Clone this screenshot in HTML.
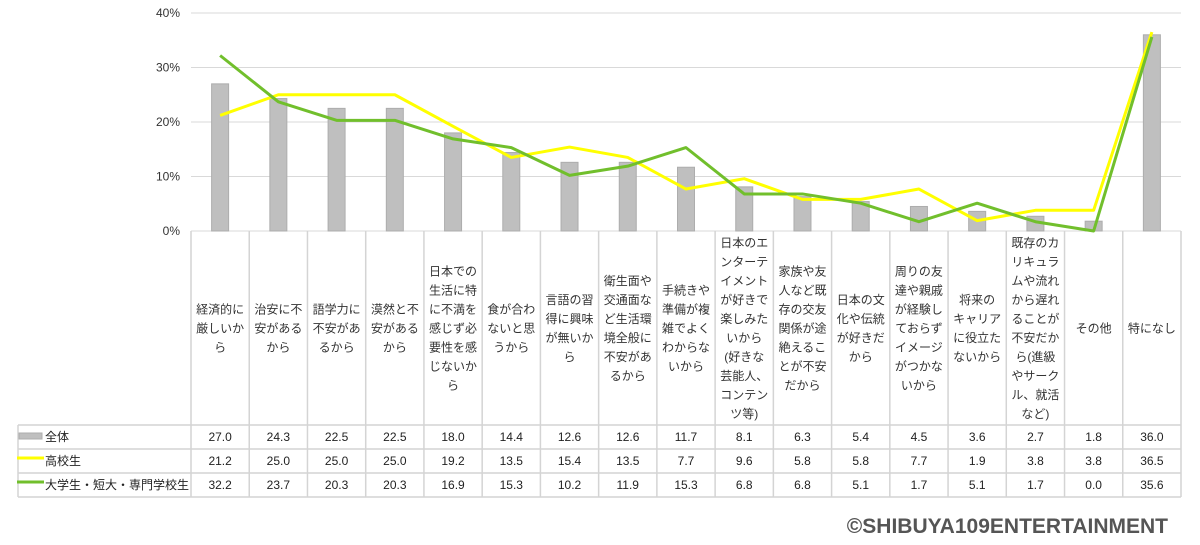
<!DOCTYPE html>
<html><head><meta charset="utf-8"><style>
html,body{margin:0;padding:0;background:#fff;}
svg{display:block;font-family:"Liberation Sans","Noto Sans CJK JP",sans-serif;}
</style></head><body>
<svg id="chart" width="1200" height="545" viewBox="0 0 1200 545">
<g id="grid"></g>
<g id="ytick"></g>
<g id="bars"></g>
<g id="lines"></g>
<g id="table"></g>
<text x="1168" y="533" text-anchor="end" font-size="21" font-weight="600" fill="#555">©SHIBUYA109ENTERTAINMENT</text>
</svg>
<script>
const categories=[["経済的に","厳しいか","ら"],["治安に不","安がある","から"],["語学力に","不安があ","るから"],["漠然と不","安がある","から"],["日本での","生活に特","に不満を","感じず必","要性を感","じないか","ら"],["食が合わ","ないと思","うから"],["言語の習","得に興味","が無いか","ら"],["衛生面や","交通面な","ど生活環","境全般に","不安があ","るから"],["手続きや","準備が複","雑でよく","わからな","いから"],["日本のエ","ンターテ","イメント","が好きで","楽しみた","いから","(好きな","芸能人、","コンテン","ツ等)"],["家族や友","人など既","存の交友","関係が途","絶えるこ","とが不安","だから"],["日本の文","化や伝統","が好きだ","から"],["周りの友","達や親戚","が経験し","ておらず","イメージ","がつかな","いから"],["将来の","キャリア","に役立た","ないから"],["既存のカ","リキュラ","ムや流れ","から遅れ","ることが","不安だか","ら(進級","やサーク","ル、就活","など)"],["その他"],["特になし"]];
const seriesNames=["全体","高校生","大学生・短大・専門学校生"];
const allValues=[27.0,24.3,22.5,22.5,18.0,14.4,12.6,12.6,11.7,8.1,6.3,5.4,4.5,3.6,2.7,1.8,36.0];
const highValues=[21.2,25.0,25.0,25.0,19.2,13.5,15.4,13.5,7.7,9.6,5.8,5.8,7.7,1.9,3.8,3.8,36.5];
const univValues=[32.2,23.7,20.3,20.3,16.9,15.3,10.2,11.9,15.3,6.8,6.8,5.1,1.7,5.1,1.7,0.0,35.6];
const yTicks=[0,10,20,30,40];

const NS="http://www.w3.org/2000/svg";
const L=191,R=1181,TOP=13,BOT=231,N=categories.length,CW=(R-L)/N;
const y=v=>BOT-(v/40)*(BOT-TOP);
const xc=i=>L+CW*(i+0.5);
function mk(tag,attrs,parent,text){const e=document.createElementNS(NS,tag);for(const k in attrs)e.setAttribute(k,attrs[k]);if(text!=null)e.textContent=text;parent.appendChild(e);return e;}
const g=id=>document.getElementById(id);

yTicks.forEach(t=>{
  const ln=mk('line',{x1:L,x2:R,y1:y(t),y2:y(t),stroke:'#d9d9d9','stroke-width':1},g('grid'));
  
  
  const tx=mk('text',{x:180,y:y(t)+4,'text-anchor':'end','font-size':12,fill:'#333'},g('ytick'),t+'%');
  
  
});

allValues.forEach((v,i)=>{
  const r=mk('rect',{x:xc(i)-8.5,y:y(v),width:17,height:BOT-y(v),fill:'#bfbfbf',stroke:'#adadad','stroke-width':1},g('bars'));
  
  
});

function line(vals,color,name){
  const p=mk('polyline',{points:vals.map((v,i)=>xc(i)+','+y(v)).join(' '),fill:'none',stroke:color,'stroke-width':3,'stroke-linejoin':'round'},g('lines'));
  
  
}
line(highValues,'#ffff00','line-high-school');
line(univValues,'#71bf2c','line-university');

const T=g('table');
const rowsY=[231,425,449,473,497];
const c='#d4d4d4';
for(let i=0;i<=N;i++){const x=L+CW*i;mk('line',{x1:x,x2:x,y1:231,y2:497,stroke:c,'stroke-width':1.5},T);}
mk('line',{x1:18,x2:18,y1:425,y2:497,stroke:c,'stroke-width':1.5},T);
rowsY.slice(1).forEach(yy=>mk('line',{x1:18,x2:R,y1:yy,y2:yy,stroke:c,'stroke-width':1.5},T));
categories.forEach((lines,i)=>{
  const lh=19,h=lines.length*lh,start=328-h/2+14;
  const t=mk('text',{'font-size':12,fill:'#333','text-anchor':'middle'},T);
  
  
  lines.forEach((s,k)=>mk('tspan',{x:xc(i),y:start+k*lh},t,s));
});
const series=[allValues,highValues,univValues];
series.forEach((vals,r)=>{
  const yy=rowsY[r+1]+16;
  vals.forEach((v,i)=>{
    const t=mk('text',{x:xc(i),y:yy,'text-anchor':'middle','font-size':12,fill:'#222'},T,v.toFixed(1));
    
    
  });
  const lt=mk('text',{x:45,y:yy,'font-size':12,fill:'#222'},T,seriesNames[r]);
  
  
});
const k0=mk('rect',{x:19,y:433,width:23,height:6,fill:'#bfbfbf',stroke:'#adadad'},T);


const k1=mk('line',{x1:17,x2:44,y1:458,y2:458,stroke:'#ffff00','stroke-width':3},T);


const k2=mk('line',{x1:17,x2:44,y1:482,y2:482,stroke:'#71bf2c','stroke-width':3},T);


</script>
</body></html>
